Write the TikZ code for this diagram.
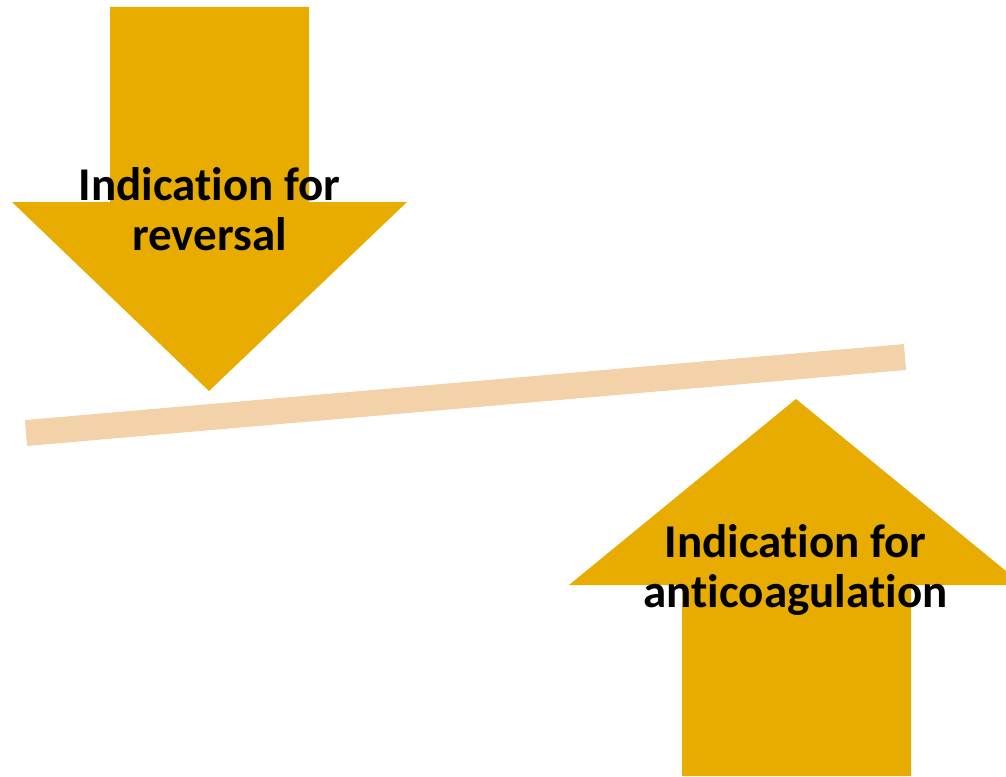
\documentclass[tikz,border=0pt]{standalone}
\usepackage{fontspec}
\setmainfont[Ligatures=NoCommon]{Carlito}
\definecolor{gold}{HTML}{E8AC00}
\definecolor{beamcol}{HTML}{F3D2AA}
\begin{document}
\begin{tikzpicture}[x=1pt,y=-1pt,
  arrowfill/.style={fill=gold,draw=none},
  labeltext/.style={font=\fontsize{47}{50}\selectfont\bfseries,align=center,inner sep=0pt,text=black,anchor=base},
  beamline/.style={draw=beamcol,line width=26pt,line cap=butt}]
\useasboundingbox (0,0) rectangle (1006,776);
\begin{scope}
\clip (0,0) rectangle (1006,776);
% down arrow
\fill[arrowfill] (110,7) -- (309,7) -- (309,202) -- (407,202) -- (209,391) -- (12,202) -- (110,202) -- cycle;
% up arrow
\fill[arrowfill] (796,399) -- (1023,585) -- (911,585) -- (911,776) -- (682,776) -- (682,585) -- (569,585) -- cycle;
\end{scope}
% beam
\coordinate (bl) at (26,433);
\coordinate (br) at (905,357);
\draw[beamline] (bl) -- (br);
% labels
\node[labeltext] (rev) at (209.5,250) {Indication for\\reversal};
\node[labeltext] (anti) at (795.5,607) {Indication for\\anticoagulation};
\end{tikzpicture}
\end{document}
